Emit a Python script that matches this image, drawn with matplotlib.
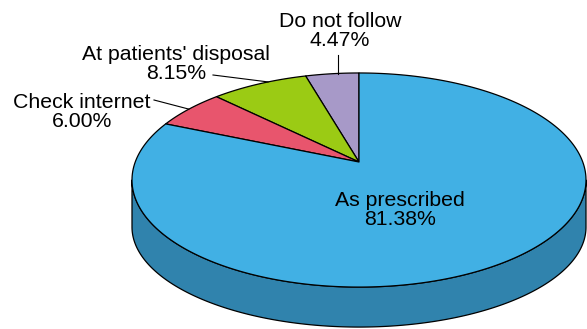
import numpy as np
import matplotlib
matplotlib.use("Agg")
import matplotlib.pyplot as plt
from matplotlib.patches import Polygon

# ---- data (counter-clockwise from 12 o'clock) ----
categories = ["Do not follow", "At patients' disposal", "Check internet", "As prescribed"]
values = [4.47, 8.15, 6.00, 81.38]
top_colors = ["#A799C8", "#9BCB14", "#E8556D", "#41B0E4"]
side_colors = ["#7F72A0", "#74990E", "#B04052", "#3083AD"]

# ---- perspective projection of a unit-radius disc ----
X0, Y0 = 359.0, 162.0
S, D = 1177.0, 5.26
PHI = np.deg2rad(27.7)
c, s = np.cos(PHI), np.sin(PHI)


def proj(t_deg):
    t = np.deg2rad(np.asarray(t_deg, dtype=float))
    sx = np.cos(t)
    sy = np.sin(t)
    z = sy * c + D
    return X0 + S * sx / z, Y0 - S * sy * s / z


_, y_top = proj(90)
_, y_bot = proj(270)
YC = (y_top + y_bot) / 2
RY = (y_bot - y_top) / 2
DEPTH_SIDE, DEPTH_VAR = 47.0, 7.0


def bottom_of(x, y):
    sn = np.clip((YC - y) / RY, -1, 1)
    return x, y + DEPTH_SIDE + DEPTH_VAR * sn


fig = plt.figure(figsize=(5.87, 3.29), dpi=100)
ax = fig.add_axes([0, 0, 1, 1])
ax.set_xlim(0, 587)
ax.set_ylim(329, 0)
ax.axis("off")

fracs = np.array(values) / np.sum(values)
starts = 90 + np.concatenate([[0], np.cumsum(fracs)[:-1]]) * 360
ends = starts + fracs * 360

# visible side range (front), between the horizontal extremes of the rim
ext = np.rad2deg(np.arcsin(c / D))
vis_lo, vis_hi = 180 + ext, 360 - ext

lw = 0.9
# side faces
for a0, a1, col in zip(starts, ends, side_colors):
    for off in (0, 360, -360):
        lo, hi = max(a0 + off, vis_lo), min(a1 + off, vis_hi)
        if hi <= lo:
            continue
        tt = np.linspace(lo, hi, 300)
        xt, yt = proj(tt)
        xb, yb = bottom_of(xt, yt)
        pts = np.column_stack([np.concatenate([xt, xb[::-1]]),
                               np.concatenate([yt, yb[::-1]])])
        ax.add_patch(Polygon(pts, closed=True, facecolor=col, edgecolor="black",
                             lw=lw, joinstyle="round"))

# top faces
for a0, a1, col in zip(starts, ends, top_colors):
    tt = np.linspace(a0, a1, 300)
    xt, yt = proj(tt)
    pts = np.column_stack([np.concatenate([[X0], xt]), np.concatenate([[Y0], yt])])
    ax.add_patch(Polygon(pts, closed=True, facecolor=col, edgecolor="black",
                         lw=lw, joinstyle="round"))

# labels
fs = 15.3
font = dict(family=["Liberation Sans", "DejaVu Sans"], fontsize=fs, color="black",
            ha="center", va="center", linespacing=1.05)
mids = (starts + ends) / 2
labels = [f"{n}\n{v:.2f}%" for n, v in zip(categories, values)]

# Do not follow
ax.text(340, 31, labels[0], **font)
ex, ey = proj(mids[0])
ax.plot([338, 338], [55, ey], color="black", lw=0.8)
# At patients' disposal
ax.text(176, 64, labels[1], **font)
ex, ey = proj(starts[1] + 0.4 * (ends[1] - starts[1]))
ax.plot([213, ex], [75, ey], color="black", lw=0.8)
# Check internet
ax.text(82, 112, labels[2], **font)
ex, ey = proj(mids[2])
ax.plot([154, ex], [100, ey], color="black", lw=0.8)
# As prescribed
ax.text(400, 210, labels[3], **font)

fig.savefig("out.png", dpi=100)
